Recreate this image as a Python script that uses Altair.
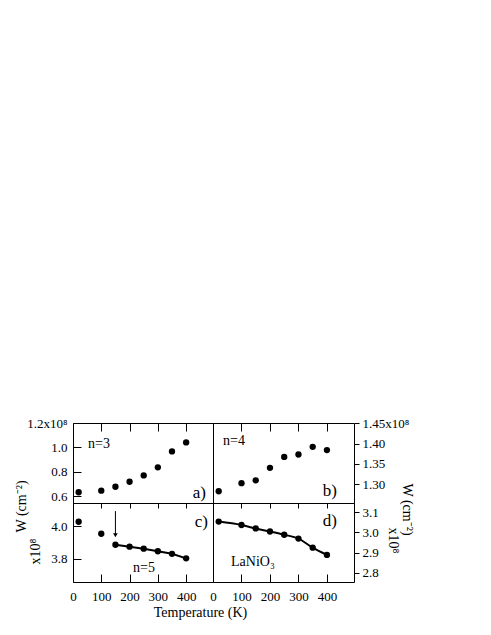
import altair as alt
import pandas as pd

FONT = "Liberation Serif"

# ---------------- data ----------------
temps = [20, 100, 150, 200, 250, 300, 350, 400]
w_n3 = [0.633, 0.646, 0.678, 0.719, 0.771, 0.837, 0.967, 1.041]          # x1e8
w_n4 = [1.282, 1.302, 1.309, 1.340, 1.367, 1.373, 1.392, 1.384]          # x1e8
w_n5 = [4.028, 3.954, 3.886, 3.874, 3.862, 3.846, 3.830, 3.802]          # x1e8
w_lanio3 = [3.054, 3.037, 3.020, 3.005, 2.989, 2.970, 2.925, 2.889]      # x1e8
n5_line_temps = [150, 200, 250, 300, 350, 400]
n5_line_vals = [3.886, 3.874, 3.862, 3.846, 3.830, 3.802]
arrow_temp = [150]
arrow_top = [4.094]
arrow_tip = [3.945]

x_ticks = [0, 100, 200, 300, 400]
ticks_a = [0.6, 0.8, 1.0, 1.2]
ticks_b = [1.30, 1.35, 1.40, 1.45]
ticks_c = [3.8, 4.0]
ticks_d = [2.8, 2.9, 3.0, 3.1]

xdomain = [0, 495]
dom_a = [0.545, 1.2]
dom_b = [1.253, 1.451]
dom_c = [3.656, 4.144]
dom_d = [2.755, 3.146]

W_L, W_R = 140, 141
H_T, H_B = 80, 79

xscale = alt.Scale(domain=xdomain, nice=False, zero=False)


def df_of(vals):
    return pd.DataFrame({"T": temps, "W": vals})


def top_ticks_axis(size):
    return alt.Axis(orient="top", values=x_ticks, offset=-size, tickSize=size,
                    labels=False, domain=False, grid=False, title=None)


def bottom_axis(title=None, **kw):
    return alt.Axis(orient="bottom", values=x_ticks, offset=-8, tickSize=8,
                    labelPadding=8, labelFlush=False, labelOverlap=False,
                    domain=False, grid=False, title=title, **kw)


def left_axis(vals, expr, title=None, **kw):
    return alt.Axis(orient="left", values=vals, offset=-8, tickSize=8,
                    labelPadding=6, labelFlush=False, labelOverlap=False,
                    labelExpr=expr, domain=False, grid=False, title=title,
                    titleAngle=270, titleAlign="center", titleBaseline="middle",
                    **kw)


def right_axis(vals, expr, title=None, **kw):
    return alt.Axis(orient="right", values=vals, tickSize=5, labelPadding=3,
                    labelFlush=False, labelOverlap=False, labelExpr=expr,
                    domain=False, grid=False, title=title,
                    titleAngle=90, titleAlign="center", titleBaseline="middle",
                    **kw)


def label(text, x, y, size, align="left", baseline="middle"):
    return alt.Chart(pd.DataFrame({"s": [text]})).mark_text(
        font=FONT, fontSize=size, align=align, baseline=baseline, color="black"
    ).encode(x=alt.value(x), y=alt.value(y), text="s:N")


def points(vals, xaxis, yscale, yaxis):
    return alt.Chart(df_of(vals)).mark_circle(size=40, color="black", opacity=1).encode(
        x=alt.X("T:Q", scale=xscale, axis=xaxis),
        y=alt.Y("W:Q", scale=yscale, axis=yaxis),
    )


# ---------------- panel a ----------------
ys_a = alt.Scale(domain=dom_a, nice=False, zero=False)
pa = alt.layer(
    points(w_n3, top_ticks_axis(8), ys_a,
           left_axis(ticks_a, "datum.value > 1.19 ? '1.2x10⁸' : format(datum.value, '.1f')",
                     title="W (cm⁻²)", titleX=-60, titleY=83)),
    label("n=3", 15, 21, 14),
    label("a)", 133, 70, 17, align="right"),
).properties(width=W_L, height=H_T)

# ---------------- panel b ----------------
ys_b = alt.Scale(domain=dom_b, nice=False, zero=False)
pb = alt.layer(
    points(w_n4, top_ticks_axis(8), ys_b,
           right_axis(ticks_b, "datum.value > 1.449 ? '1.45x10⁸' : format(datum.value, '.2f')",
                      title="W (cm⁻²)", titleX=52, titleY=86)),
    label("n=4", 10, 18, 14),
    label("b)", 124, 68, 17, align="right"),
).properties(width=W_R, height=H_T)

# ---------------- panel c ----------------
ys_c = alt.Scale(domain=dom_c, nice=False, zero=False)
line_c = alt.Chart(pd.DataFrame({"T": n5_line_temps, "W": n5_line_vals})).mark_line(
    color="black", strokeWidth=2
).encode(
    x=alt.X("T:Q", scale=xscale, axis=top_ticks_axis(5)),
    y=alt.Y("W:Q", scale=ys_c, axis=None),
)
arrow_df = pd.DataFrame({"T": arrow_temp, "y1": arrow_top, "y2": arrow_tip})
arrow_rule = alt.Chart(arrow_df).mark_rule(color="black", strokeWidth=1).encode(
    x=alt.X("T:Q", scale=xscale, axis=None),
    y=alt.Y("y1:Q", scale=ys_c, axis=None),
    y2="y2:Q",
)
arrow_head = alt.Chart(arrow_df).mark_point(
    shape="triangle-down", filled=True, color="black", size=22, opacity=1
).encode(
    x=alt.X("T:Q", scale=xscale, axis=None),
    y=alt.Y("y2:Q", scale=ys_c, axis=None),
)
pc = alt.layer(
    points(w_n5,
           bottom_axis("Temperature (K)", titleX=127, titleY=38,
                       titleAlign="center", titleBaseline="middle"),
           ys_c,
           left_axis(ticks_c, "format(datum.value, '.1f')",
                     title="x10⁸", titleX=-46, titleY=48)),
    line_c, arrow_rule, arrow_head,
    label("n=5", 60, 65, 14),
    label("c)", 135, 19, 17, align="right"),
).resolve_axis(x="independent", y="independent").properties(width=W_L, height=H_B)

# ---------------- panel d ----------------
ys_d = alt.Scale(domain=dom_d, nice=False, zero=False)
line_d = alt.Chart(df_of(w_lanio3)).mark_line(
    color="black", strokeWidth=2, interpolate="monotone"
).encode(
    x=alt.X("T:Q", scale=xscale, axis=top_ticks_axis(5)),
    y=alt.Y("W:Q", scale=ys_d, axis=None),
)
pd_ = alt.layer(
    points(w_lanio3, bottom_axis(None), ys_d,
           right_axis(ticks_d, "format(datum.value, '.1f')",
                      title="x10⁸", titleX=38, titleY=37)),
    line_d,
    label("LaNiO₃", 18, 63, 14, baseline="alphabetic"),
    label("d)", 124, 18, 17, align="right"),
).resolve_axis(x="independent", y="independent").properties(width=W_R, height=H_B)

chart = alt.concat(pa, pb, pc, pd_, columns=2, spacing=0, bounds="flush").properties(
    padding={"top": 408, "left": 5, "right": 5, "bottom": 5},
    background="white",
).configure_view(
    stroke="black", strokeWidth=1
).configure_axis(
    labelFont=FONT, labelFontSize=13, labelColor="black",
    titleFont=FONT, titleFontSize=14, titleFontWeight="normal", titleColor="black",
    tickColor="black", tickWidth=1,
)

chart.save("out.html", embed_options={"renderer": "svg", "actions": False})
